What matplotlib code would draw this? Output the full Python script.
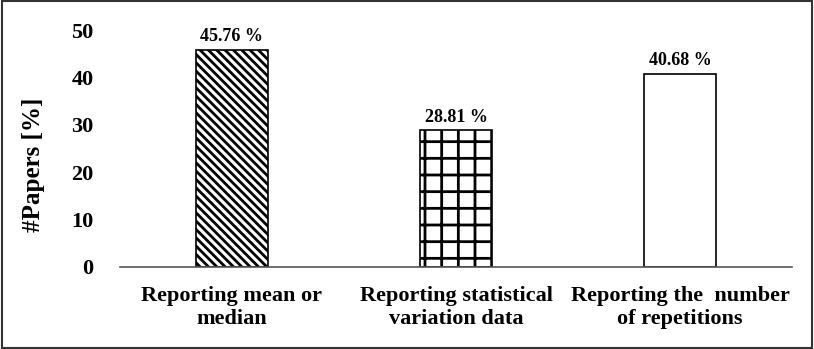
import matplotlib.pyplot as plt
from matplotlib.patches import Rectangle

categories = ["Reporting mean or\nmedian",
              "Reporting statistical\nvariation data",
              "Reporting the  number\nof repetitions"]
values = [45.76, 28.81, 40.68]
hatches = ["\\\\\\\\", "+", ""]
y_ticks = [0, 10, 20, 30, 40, 50]

plt.rcParams['font.family'] = ['Liberation Serif', 'DejaVu Serif']
plt.rcParams['font.weight'] = 'bold'
plt.rcParams['hatch.linewidth'] = 2.0

fig = plt.figure(figsize=(8.14, 3.49), dpi=100)
ax = fig.add_axes([0.1474, 0.235, 0.8256, 0.679])

x = range(len(categories))
bars = ax.bar(x, values, width=0.32, color="white", edgecolor="black", linewidth=1.2)
for bar, h in zip(bars, hatches):
    bar.set_hatch(h)

for bar, v in zip(bars, values):
    ax.text(bar.get_x() + bar.get_width() / 2, v + 1.0, f"{v:.2f} %",
            ha="center", va="bottom", fontsize=13, fontweight="bold")

ax.set_xlim(-0.5, 2.5)
ax.set_ylim(0, 50)
ax.set_yticks(y_ticks)
ax.set_yticklabels([str(t) for t in y_ticks], fontsize=16, fontweight="bold")
ax.set_xticks(list(x))
ax.set_xticklabels(categories, fontsize=16, fontweight="bold", linespacing=1.2)
ax.tick_params(axis="both", length=0)
ax.tick_params(axis="y", pad=19)
ax.tick_params(axis="x", pad=14)
ax.set_ylabel("#Papers [%]", fontsize=18, fontweight="bold")
ax.yaxis.set_label_coords(-0.112, 0.43)

for s in ["top", "right", "left"]:
    ax.spines[s].set_visible(False)
ax.spines["bottom"].set_color("#555555")
ax.spines["bottom"].set_linewidth(1.2)

fig.patches.append(Rectangle((0.002, 0.004), 0.995, 0.992, transform=fig.transFigure,
                             fill=False, edgecolor="#333333", linewidth=1.5))

fig.savefig("out.png", dpi=100)
